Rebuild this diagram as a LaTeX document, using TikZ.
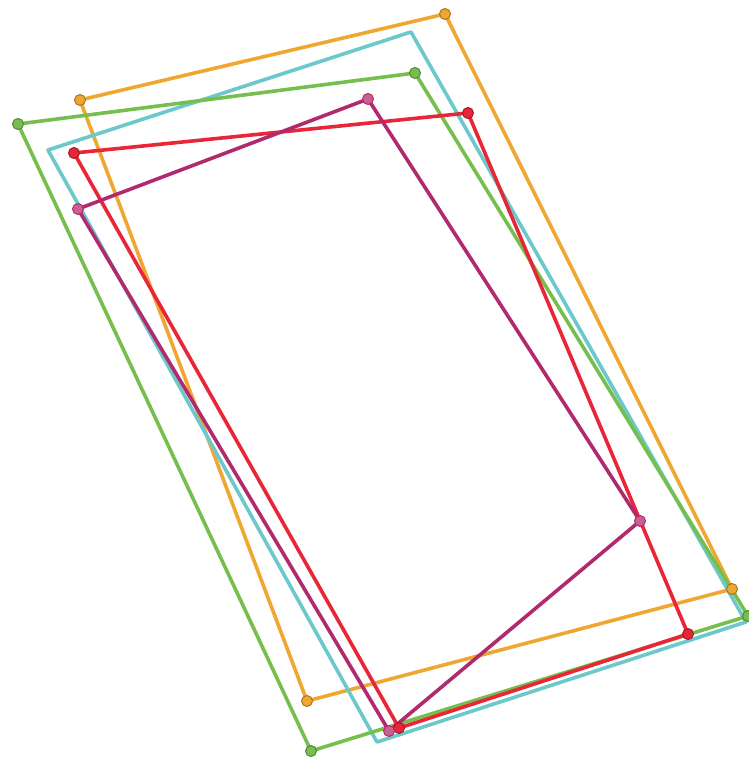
\documentclass[tikz,border=0pt]{standalone}
\usetikzlibrary{calc}
\definecolor{qorange}{HTML}{F0A732}
\definecolor{qcyan}{HTML}{6CC9CB}
\definecolor{qgreen}{HTML}{76BF4E}
\definecolor{qred}{HTML}{E82638}
\definecolor{qpurple}{HTML}{B22A6E}
\definecolor{qpink}{HTML}{C9618E}

\begin{document}
\begin{tikzpicture}[x=1pt, y=-1pt,
  quad/.style={line width=3.6pt, line join=round},
  vtx/.style={circle, inner sep=0pt, minimum size=11pt, line width=1pt}]

  \useasboundingbox (0,0) rectangle (748,758);

  % corner points, one set per quadrilateral
  \coordinate (o1) at (445,14);  \coordinate (o2) at (80,100);
  \coordinate (o3) at (307,701); \coordinate (o4) at (732,589);
  \coordinate (c1) at (411,32);  \coordinate (c2) at (48,150);
  \coordinate (c3) at (377,742); \coordinate (c4) at (746,622);
  \coordinate (g1) at (415,73);  \coordinate (g2) at (18,124);
  \coordinate (g3) at (311,751); \coordinate (g4) at (748,616);
  \coordinate (r1) at (468,113); \coordinate (r2) at (74,153);
  \coordinate (r3) at (399,728); \coordinate (r4) at (688,634);
  \coordinate (p1) at (368,99);  \coordinate (p2) at (78,209);
  \coordinate (p3) at (389,731); \coordinate (p4) at (640,521);

  \draw[quad, qorange] (o1) -- (o2) -- (o3) -- (o4) -- cycle;
  \draw[quad, qcyan]   (c1) -- (c2) -- (c3) -- (c4) -- cycle;
  \draw[quad, qgreen]  (g1) -- (g2) -- (g3) -- (g4) -- cycle;
  \draw[quad, qred]    (r1) -- (r2) -- (r3) -- (r4) -- cycle;
  \draw[quad, qpurple] (p1) -- (p2) -- (p3) -- (p4) -- cycle;

  % vertex markers
  \foreach \v in {o1,o2,o3,o4}
    \node[vtx, fill=qorange, draw=qorange!70!black] (d\v) at (\v) {};
  \foreach \v in {g1,g2,g3,g4}
    \node[vtx, fill=qgreen, draw=qgreen!70!black] (d\v) at (\v) {};
  \foreach \v in {r1,r2,r3,r4}
    \node[vtx, fill=qred, draw=qred!70!black] (d\v) at (\v) {};
  \foreach \v in {p1,p2,p3,p4}
    \node[vtx, fill=qpink, draw=qpurple] (d\v) at (\v) {};
\end{tikzpicture}
\end{document}
